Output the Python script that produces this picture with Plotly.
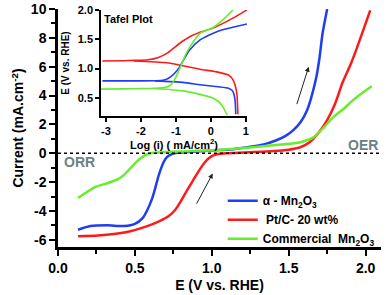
import plotly.graph_objects as go

# ---- main LSV data (E vs RHE, current mA/cm2) ----
blue_x = [0.13, 0.21, 0.32, 0.43, 0.50, 0.55, 0.58, 0.61, 0.63, 0.65, 0.67, 0.69, 0.71, 0.74, 0.78, 0.85, 0.95, 1.05, 1.15, 1.25, 1.35, 1.42, 1.48, 1.53, 1.58, 1.62, 1.65, 1.68, 1.70, 1.72, 1.75]
blue_y = [-5.3, -5.05, -5.0, -5.05, -4.9, -4.5, -3.95, -3.2, -2.5, -1.7, -1.05, -0.55, -0.25, -0.06, 0.03, 0.08, 0.15, 0.22, 0.3, 0.45, 0.65, 0.9, 1.2, 1.6, 2.2, 3.0, 4.0, 5.3, 6.6, 8.3, 10.0]

red_x = [0.13, 0.26, 0.43, 0.58, 0.66, 0.72, 0.76, 0.80, 0.84, 0.88, 0.92, 0.95, 0.98, 1.01, 1.05, 1.10, 1.25, 1.40, 1.50, 1.57, 1.62, 1.66, 1.70, 1.75, 1.80, 1.85, 1.90, 1.94, 1.98, 2.03]
red_y = [-5.75, -5.7, -5.5, -5.05, -4.7, -4.35, -3.95, -3.3, -2.55, -1.85, -1.15, -0.7, -0.35, -0.15, -0.04, 0.0, 0.07, 0.15, 0.25, 0.4, 0.65, 1.0, 1.5, 2.3, 3.4, 4.9, 6.1, 7.2, 8.4, 9.9]

green_x = [0.13, 0.24, 0.32, 0.39, 0.43, 0.47, 0.51, 0.55, 0.58, 0.62, 0.68, 0.80, 1.00, 1.25, 1.45, 1.57, 1.66, 1.72, 1.79, 1.86, 1.92, 1.98, 2.04]
green_y = [-3.1, -2.35, -2.08, -1.8, -1.5, -1.05, -0.6, -0.25, -0.07, 0.03, 0.07, 0.12, 0.2, 0.4, 0.6, 0.75, 1.1, 1.7, 2.5, 3.1, 3.7, 4.2, 4.65]

# ---- inset Tafel data (log i, E) ----
tb_x = [-3.1, -2.5, -2.0, -1.6, -1.37, -1.2, -1.09, -0.99, -0.89, -0.75, -0.6, -0.31, 0.17, 0.6, 1.03]
tb_y = [0.79, 0.79, 0.79, 0.792, 0.80, 0.84, 0.89, 0.95, 1.03, 1.18, 1.32, 1.49, 1.63, 1.70, 1.76]
tb2_x = [-1.6, -0.8, -0.31, 0.2, 0.5, 0.6, 0.65, 0.68, 0.70, 0.71]
tb2_y = [0.79, 0.765, 0.725, 0.69, 0.665, 0.63, 0.58, 0.50, 0.38, 0.22]

tr_x = [-3.1, -2.5, -2.2, -1.8, -1.5, -1.26, -1.0, -0.8, -0.55, -0.31, 0.06, 0.63, 1.03]
tr_y = [1.13, 1.135, 1.14, 1.15, 1.19, 1.26, 1.38, 1.47, 1.56, 1.62, 1.69, 1.86, 2.0]
tr2_x = [-2.2, -1.26, -0.8, -0.31, 0.2, 0.5, 0.62, 0.69, 0.74, 0.76, 0.77]
tr2_y = [1.13, 1.10, 1.05, 0.99, 0.94, 0.89, 0.82, 0.72, 0.58, 0.40, 0.22]

tg_x = [-3.15, -2.5, -2.0, -1.6, -1.3, -1.15, -1.05, -0.95, -0.85, -0.72, -0.6, -0.31, 0.06, 0.34, 0.63]
tg_y = [0.65, 0.655, 0.66, 0.665, 0.68, 0.72, 0.80, 0.92, 1.06, 1.24, 1.37, 1.60, 1.70, 1.83, 2.0]
tg2_x = [-1.6, -0.8, -0.31, 0.0, 0.17, 0.28, 0.36, 0.42, 0.46]
tg2_y = [0.66, 0.62, 0.56, 0.51, 0.46, 0.40, 0.33, 0.26, 0.21]

x_ticks = [0.0, 0.5, 1.0, 1.5, 2.0]
y_ticks = [-6, -4, -2, 0, 2, 4, 6, 8, 10]
x2_ticks = [-3, -2, -1, 0, 1]
y2_ticks = [0.5, 1.0, 1.5, 2.0]

BLUE = "#1f3df5"
RED = "#ff1a1a"
GREEN = "#66ee2a"
FONT = "Liberation Sans, Arial, sans-serif"
SM = 0.6

fig = go.Figure()
fig.add_trace(go.Scatter(x=blue_x, y=blue_y, mode="lines", line=dict(color=BLUE, width=2.5, shape="spline", smoothing=SM),
                         name="<b>α - Mn<sub>2</sub>O<sub>3</sub></b>"))
fig.add_trace(go.Scatter(x=red_x, y=red_y, mode="lines", line=dict(color=RED, width=2.5, shape="spline", smoothing=SM),
                         name="<b>&nbsp;Pt/C- 20 wt%</b>"))
fig.add_trace(go.Scatter(x=green_x, y=green_y, mode="lines", line=dict(color=GREEN, width=2.5, shape="spline", smoothing=SM),
                         name="<b>Commercial&nbsp; Mn<sub>2</sub>O<sub>3</sub></b>"))

for xs, ys, c in [(tr_x, tr_y, RED), (tr2_x, tr2_y, RED), (tb_x, tb_y, BLUE), (tb2_x, tb2_y, BLUE),
                  (tg_x, tg_y, GREEN), (tg2_x, tg2_y, GREEN)]:
    fig.add_trace(go.Scatter(x=xs, y=ys, mode="lines", xaxis="x2", yaxis="y2", showlegend=False,
                             line=dict(color=c, width=1.6, shape="spline", smoothing=SM)))

fig.add_shape(type="line", xref="x", yref="y", x0=0, x1=2.1, y0=0, y1=0,
              line=dict(color="black", width=1.3, dash="dot"))

fig.add_annotation(x=1.006, y=-1.4, ax=0.896, ay=-3.6, xref="x", yref="y", axref="x", ayref="y",
                   showarrow=True, arrowhead=2, arrowsize=1, arrowwidth=1, arrowcolor="#222", text="",
                   font=dict(size=10))
fig.add_annotation(x=1.63, y=6.0, ax=1.55, ay=3.3, xref="x", yref="y", axref="x", ayref="y",
                   showarrow=True, arrowhead=2, arrowsize=1, arrowwidth=1, arrowcolor="#222", text="",
                   font=dict(size=10))
fig.add_annotation(x=0.14, y=-0.6, xref="x", yref="y", text="<b>ORR</b>", showarrow=False,
                   font=dict(family=FONT, size=14, color="#6a8282"))
fig.add_annotation(x=2.095, y=0.6, xref="x", yref="y", xanchor="right", text="<b>OER</b>", showarrow=False,
                   font=dict(family=FONT, size=14, color="#6a8282"))
fig.add_annotation(x=0.01, y=0.99, xref="x2 domain", yref="y2 domain", xanchor="left", yanchor="top",
                   text="<b>Tafel Plot</b>", showarrow=False,
                   font=dict(family=FONT, size=11, color="black"))

fig.update_layout(
    width=386, height=295,
    margin=dict(l=58, r=5, t=9, b=48, autoexpand=False),
    paper_bgcolor="white", plot_bgcolor="white",
    font=dict(family=FONT, color="black", size=12),
    showlegend=True,
    legend=dict(x=0.51, y=0.255, xanchor="left", yanchor="top", bgcolor="rgba(0,0,0,0)",
                font=dict(family=FONT, size=12, color="black"), tracegroupgap=0,
                itemwidth=30),
    xaxis=dict(range=[0, 2.1], tickvals=x_ticks, ticktext=["<b>%.1f</b>" % v for v in x_ticks],
               showline=True, linecolor="black", linewidth=2.5, ticks="outside", ticklen=6, tickwidth=2,
               tickcolor="black", showgrid=False, zeroline=False, automargin=False,
               minor=dict(dtick=0.25, ticks="outside", ticklen=4, tickwidth=2, tickcolor="black", showgrid=False),
               tickfont=dict(family=FONT, size=14),
               title=dict(text="<b>E (V vs. RHE)</b>", font=dict(family=FONT, size=14), standoff=6)),
    yaxis=dict(range=[-6.5, 10], tickvals=y_ticks, ticktext=["<b>%d</b>" % v for v in y_ticks],
               showline=True, linecolor="black", linewidth=2.5, ticks="outside", ticklen=6, tickwidth=2,
               tickcolor="black", showgrid=False, zeroline=False, automargin=False,
               minor=dict(dtick=1, ticks="outside", ticklen=4, tickwidth=2, tickcolor="black", showgrid=False),
               tickfont=dict(family=FONT, size=14),
               title=dict(text="<b>Current (mA.cm<sup>-2</sup>)</b>", font=dict(family=FONT, size=14), standoff=4)),
    xaxis2=dict(domain=[0.133, 0.585], anchor="y2", range=[-3.14, 1.03], tickvals=x2_ticks,
                ticktext=["<b>%d</b>" % v for v in x2_ticks],
                showline=True, linecolor="black", linewidth=1.5, ticks="outside", ticklen=4, tickwidth=1.5,
                tickcolor="black", showgrid=False, zeroline=False, automargin=False,
                tickfont=dict(family=FONT, size=11),
                title=dict(text="<b>Log (i) ( mA/cm<sup>2</sup>)</b>", font=dict(family=FONT, size=11), standoff=2)),
    yaxis2=dict(domain=[0.55, 0.996], anchor="x2", range=[0.19, 2.0], tickvals=y2_ticks,
                ticktext=["<b>%.1f</b>" % v for v in y2_ticks],
                showline=True, linecolor="black", linewidth=1.5, ticks="outside", ticklen=4, tickwidth=1.5,
                tickcolor="black", showgrid=False, zeroline=False, automargin=False,
                tickfont=dict(family=FONT, size=11),
                title=dict(text="<b>E (V vs. RHE)</b>", font=dict(family=FONT, size=10), standoff=6)),
)

fig.write_html("out.html", config={"displayModeBar": False},
               post_script="document.body.style.margin='0';document.body.style.padding='0';")
